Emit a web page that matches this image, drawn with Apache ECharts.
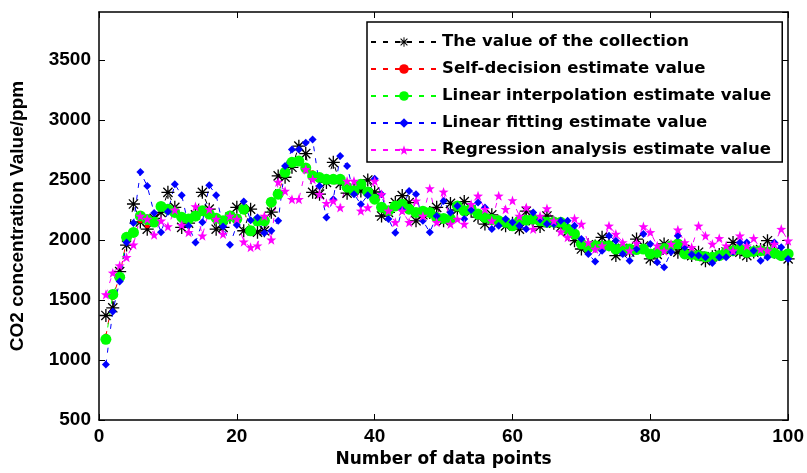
<!DOCTYPE html>
<html>
<head>
<meta charset="utf-8">
<script src="https://cdn.jsdelivr.net/npm/echarts@6.0.0/dist/echarts.min.js"></script>
<style>
  html, body { margin: 0; padding: 0; background: #fff; }
  #chartmain { width: 807px; height: 473px; }
</style>
</head>
<body>
<div id="chartmain"></div>
<script>
// series values, one per data point (point 1 .. 100)
var collected = [
  1371, 1435, 1737, 1958, 2300, 2150, 2090, 2180, 2230, 2397,
  2272, 2105, 2140, 2210, 2397, 2257, 2090, 2105, 2190, 2272,
  2077, 2257, 2065, 2077, 2232, 2534, 2523, 2606, 2782, 2720,
  2397, 2382, 2480, 2647, 2470, 2390, 2420, 2409, 2500, 2400,
  2200, 2230, 2312, 2370, 2312, 2160, 2210, 2230, 2272, 2160,
  2305, 2250, 2320, 2240, 2190, 2133, 2210, 2150, 2118, 2140,
  2091, 2240, 2160, 2112, 2200, 2140, 2110, 2070, 1994, 1925,
  1960, 1950, 2022, 1960, 1870, 1930, 1900, 2008, 1950, 1842,
  1880, 1967, 1920, 1898, 1920, 1870, 1898, 1828, 1860, 1880,
  1900, 1980, 1898, 1870, 1900, 1920, 1994, 1898, 1880, 1842
];
var selfDecision = [
  1200, 1520, 1700, 2000, 2080, 2160, 2118, 2150, 2270, 2250,
  2220, 2170, 2160, 2210, 2230, 2210, 2170, 2150, 2190, 2180,
  2240, 2090, 2150, 2150, 2300, 2390, 2550, 2640, 2660, 2610,
  2560, 2510, 2500, 2500, 2500, 2430, 2400, 2460, 2390, 2330,
  2270, 2240, 2290, 2300, 2250, 2220, 2230, 2220, 2180, 2170,
  2180, 2270, 2240, 2250, 2210, 2180, 2160, 2150, 2140, 2120,
  2150, 2170, 2170, 2150, 2140, 2150, 2140, 2100, 2040, 1970,
  1940, 1950, 1960, 1950, 1920, 1930, 1920, 1930, 1920, 1880,
  1900, 1920, 1940, 1960, 1890, 1880, 1870, 1860, 1850, 1870,
  1890, 1910, 1920, 1900, 1900, 1910, 1900, 1890, 1870, 1880
];
var linearInterp = [
  1172, 1546, 1690, 2022, 2063, 2201, 2170, 2150, 2280, 2257,
  2230, 2190, 2174, 2200, 2243, 2216, 2182, 2160, 2200, 2174,
  2257, 2077, 2160, 2160, 2315, 2382, 2564, 2647, 2658, 2600,
  2534, 2520, 2506, 2506, 2506, 2440, 2409, 2465, 2400, 2340,
  2273, 2243, 2284, 2298, 2257, 2230, 2240, 2230, 2188, 2180,
  2174, 2284, 2243, 2257, 2216, 2188, 2170, 2160, 2147, 2118,
  2160, 2165, 2174, 2160, 2147, 2150, 2147, 2091, 2050, 1967,
  1939, 1953, 1950, 1953, 1925, 1930, 1925, 1920, 1925, 1884,
  1898, 1930, 1950, 1967, 1884, 1880, 1870, 1860, 1856, 1870,
  1898, 1910, 1925, 1898, 1905, 1911, 1900, 1890, 1870, 1884
];
var linearFit = [
   962, 1405, 1654, 1980, 2141, 2567, 2450, 2224, 2065, 2235,
  2465, 2373, 2118, 1980, 2147, 2456, 2373, 2113, 1961, 2125,
  2320, 2165, 2188, 2058, 2077, 2160, 2616, 2755, 2755, 2811,
  2838, 2450, 2188, 2340, 2700, 2616, 2382, 2298, 2373, 2510,
  2382, 2174, 2060, 2250, 2409, 2382, 2160, 2064, 2200, 2326,
  2230, 2284, 2174, 2250, 2312, 2271, 2091, 2118, 2174, 2147,
  2118, 2091, 2230, 2170, 2133, 2133, 2160, 2160, 2118, 2008,
  1884, 1820, 1911, 2036, 1994, 1884, 1828, 1925, 2050, 1967,
  1815, 1773, 1900, 2036, 1939, 1880, 1870, 1856, 1809, 1856,
  1856, 1900, 1980, 1980, 1911, 1828, 1856, 1980, 1939, 1842
];
var regression = [
  1546, 1726, 1787, 1856, 1961, 2200, 2174, 2044, 2160, 2113,
  2251, 2124, 2064, 2279, 2036, 2257, 2174, 2050, 2200, 2174,
  1986, 1939, 1953, 2200, 2002, 2484, 2409, 2340, 2340, 2589,
  2506, 2382, 2307, 2326, 2271, 2492, 2492, 2243, 2271, 2492,
  2382, 2243, 2147, 2243, 2147, 2326, 2200, 2429, 2147, 2401,
  2133, 2174, 2133, 2298, 2368, 2257, 2160, 2368, 2257, 2330,
  2200, 2271, 2091, 2200, 2263, 2160, 2069, 2022, 2180, 2133,
  1980, 1925, 1953, 2118, 2050, 1980, 1911, 1975, 2113, 2064,
  1953, 1911, 1967, 2086, 1980, 1939, 2118, 2036, 1967, 2014,
  1953, 1911, 2036, 1953, 2014, 1925, 1911, 1967, 2091, 1994
];
var seriesNames = [
  'The value of the collection',
  'Self-decision estimate value',
  'Linear interpolation estimate value',
  'Linear fitting estimate value',
  'Regression analysis estimate value'
];

var asteriskPath = 'path://M0,9L20,9L20,11L0,11ZM9,0L11,0L11,20L9,20Z' +
  'M2.22,3.64L3.64,2.22L17.78,16.36L16.36,17.78ZM16.36,2.22L17.78,3.64L3.64,17.78L2.22,16.36Z';
var starPath = 'path://M10,0L12.35,6.76L19.51,6.91L13.8,11.24L15.88,18.09L10,14L4.12,18.09L6.2,11.24L0.49,6.91L7.65,6.76Z';

function toPoints(arr) {
  var out = [];
  for (var i = 0; i < arr.length; i++) out.push([i + 1, arr[i]]);
  return out;
}
function makeSeries(name, arr, color, symbol, size) {
  return {
    name: name,
    type: 'line',
    data: toPoints(arr),
    symbol: symbol,
    symbolSize: size,
    showSymbol: true,
    lineStyle: { color: color, width: 1, type: [5, 7] },
    itemStyle: { color: color, borderWidth: 0 },
    emphasis: { disabled: true }
  };
}

var tickFont = { fontFamily: 'Liberation Sans', fontWeight: 'bold', fontSize: 19, color: '#000' };
var axisLine = { show: true, onZero: false, lineStyle: { color: '#000', width: 1.5 } };

var option = {
  animation: false,
  grid: { left: 96, right: 15, top: 12, bottom: 51 },
  legend: {
    orient: 'vertical',
    left: 367,
    top: 22,
    padding: [10, 11, 2, 3],
    itemGap: 7,
    itemWidth: 66,
    itemHeight: 12,
    borderColor: '#000',
    borderWidth: 1.5,
    backgroundColor: '#fff',
    textStyle: { fontFamily: 'DejaVu Sans', fontWeight: 'bold', fontSize: 16.5, color: '#000', lineHeight: 20 },
    data: seriesNames
  },
  xAxis: [{
    type: 'value', position: 'bottom', min: 0, max: 100, interval: 20,
    axisLine: axisLine,
    axisTick: { inside: true, length: 6, lineStyle: { color: '#000' } },
    axisLabel: Object.assign({ margin: 7 }, tickFont),
    splitLine: { show: false },
    name: 'Number of data points', nameLocation: 'middle', nameGap: 31,
    nameTextStyle: { fontFamily: 'DejaVu Sans', fontWeight: 'bold', fontSize: 17, color: '#000' }
  }, {
    type: 'value', position: 'top', min: 0, max: 100, interval: 20,
    axisLine: axisLine,
    axisTick: { inside: true, length: 6, lineStyle: { color: '#000' } },
    axisLabel: { show: false },
    splitLine: { show: false }
  }],
  yAxis: [{
    type: 'value', position: 'left', min: 500, max: 3900, interval: 500,
    axisLine: axisLine,
    axisTick: { inside: true, length: 6, lineStyle: { color: '#000' } },
    axisLabel: Object.assign({ margin: 8, showMaxLabel: false, formatter: function (v) { return String(v); } }, tickFont),
    splitLine: { show: false },
    name: 'CO2 concentration Value/ppm', nameLocation: 'middle', nameGap: 72, nameRotate: 90,
    nameTextStyle: { fontFamily: 'Liberation Sans', fontWeight: 'bold', fontSize: 19, color: '#000' }
  }, {
    type: 'value', position: 'right', min: 500, max: 3900, interval: 500,
    axisLine: axisLine,
    axisTick: { inside: true, length: 6, lineStyle: { color: '#000' } },
    axisLabel: { show: false },
    splitLine: { show: false }
  }],
  series: [
    makeSeries(seriesNames[0], collected, '#000000', asteriskPath, 13),
    makeSeries(seriesNames[1], selfDecision, '#ff0000', 'circle', 5),
    makeSeries(seriesNames[2], linearInterp, '#00ff00', 'circle', 11),
    makeSeries(seriesNames[3], linearFit, '#0000ff', 'diamond', 8),
    makeSeries(seriesNames[4], regression, '#ff00ff', starPath, 10)
  ]
};

var myChart = echarts.init(document.getElementById('chartmain'));
myChart.setOption(option);
</script>
</body>
</html>
